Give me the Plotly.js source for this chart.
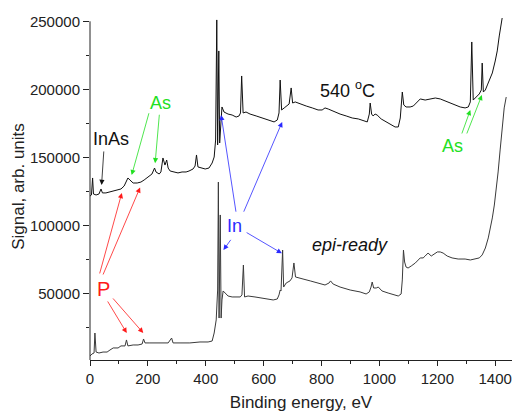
<!DOCTYPE html>
<html><head><meta charset="utf-8">
<script src="https://cdn.plot.ly/plotly-3.0.1.min.js"></script>
<style>html,body{margin:0;padding:0;background:#fff}#chart{width:512px;height:412px}</style>
</head><body><div id="chart"></div>
<script>
// Upper spectrum: after annealing at 540 °C
const energy540 = [0,5,9,12,21,31,38,43,55,69,86,97,107,118,125,131,138,149,163,176,187,197,207,214,223,228,239,245,252,259,265,270,277,290,304,318,332,342,356,363,368,373,383,398,411,422,429,434,438,441,445,448,453,456,463,477,491,505,515,520,524,529,539,553,574,595,615,636,647,653,657,662,671,681,688,695,700,709,726,747,768,788,802,812,823,844,864,885,906,927,947,958,965,968,973,978,985,992,1006,1023,1041,1054,1065,1072,1079,1084,1092,1106,1117,1127,1141,1158,1175,1193,1210,1227,1245,1262,1279,1296,1307,1314,1319,1324,1331,1338,1345,1352,1355,1359,1366,1373,1383,1390,1400,1407,1414,1421,1424];
const signal540 = [121500,122300,134800,123000,122300,123000,126700,123800,123800,124500,125200,126000,126700,128900,132600,134800,133300,131100,131100,131800,133300,134800,136300,137700,142100,139200,137700,139200,149500,144300,148000,142100,139900,139200,138500,139200,139200,139900,141400,143600,151700,142900,142100,141400,142100,145800,150200,162700,251000,159100,228200,160500,177400,187000,183300,181800,181100,179600,180400,182600,209800,182600,183300,181800,180400,178900,177400,176000,177400,182600,206800,184800,186300,187700,189200,201000,189900,190700,189200,187700,186300,184800,184800,186300,185500,183300,181800,180400,178900,178200,176700,176000,181800,189900,181800,180400,181800,181100,178200,176000,173800,172300,172300,178900,198000,188500,187000,187000,187700,189900,192900,192100,192900,193600,192900,191400,189900,188500,187000,186300,187000,190700,234800,192100,193600,195100,196600,199500,219300,198000,199500,203200,209000,212000,220800,228200,239200,249500,252400];

// Lower spectrum: epi-ready surface
const energyEpi = [0,7,14,17,21,31,45,59,69,80,97,107,121,126,131,149,166,180,185,190,207,242,270,282,287,311,345,380,408,422,429,436,441,443.5,446,450,453,456,460,467,477,491,505,519,525,530,534,546,570,595,615,633,647,653,657,660,665.5,669,678,691,698,704.5,710,719,736,761,788,812,826,831,840,864,899,933,954,965,971,975,980,989,996,1009,1030,1051,1065,1075,1079,1083,1087,1092,1099,1110,1124,1141,1151,1158,1168,1179,1189,1200,1210,1220,1234,1251,1272,1296,1314,1331,1345,1355,1366,1376,1383,1390,1397,1404,1410,1417,1424,1431,1438];
const signalEpi = [3900,5400,6100,20800,6800,6100,6800,6800,8300,9800,9800,11300,11300,15700,11300,12000,12000,12700,16400,13500,13500,13500,13500,17100,13500,13500,13500,14200,14200,14900,20800,30400,52400,131800,31800,107600,31800,45100,51700,50200,48000,47300,47300,47300,48800,70800,47300,48000,47300,46500,45800,45100,45800,48800,52400,51700,81800,54600,57600,59100,61300,72300,62000,61300,60500,59100,57600,56100,57600,59100,56800,54600,52400,51000,49500,51000,54600,58300,53900,53900,54600,51700,50200,48800,48000,49500,59800,81800,73000,69300,68600,70100,72300,76000,76000,77400,79600,77400,78900,80400,80400,79600,77400,76000,75200,75200,74500,75200,76000,78200,83300,90700,97300,105400,114900,125900,139200,155400,171500,186300,194300];

const xTickVals = [0,200,400,600,800,1000,1200,1400];
const xTickText = ['0','200','400','600','800','1000','1200','1400'];
const xMinorVals = [100,300,500,700,900,1100,1300];
const yTickVals = [50000,100000,150000,200000,250000];
const yTickText = ['50000','100000','150000','200000','250000'];
const yMinorVals = [25000,75000,125000,175000,225000];

const FONT = 'Liberation Sans, Arial, sans-serif';
const RED = '#ff1a1a', GREEN = '#22e022', BLUE = '#2a2aff', BLACK = '#111111';

function label(x, y, text, color, size) {
  return {x: x, y: y, xref: 'x', yref: 'y', text: text, showarrow: false,
          font: {family: FONT, size: size || 18, color: color}, xanchor: 'center', yanchor: 'middle'};
}
function arrow(x, y, ax, ay, color) {
  return {x: x, y: y, ax: ax, ay: ay, xref: 'x', yref: 'y', axref: 'x', ayref: 'y',
          text: '', showarrow: true, arrowhead: 2, arrowsize: 1.3, arrowwidth: 0.8,
          arrowcolor: color, standoff: 0, startstandoff: 0};
}

const annotations = [
  label(45, 53200, 'P', RED, 20),
  arrow(110, 123800, 32, 63500, RED),
  arrow(173, 127800, 43, 62700, RED),
  arrow(127, 20800, 58, 45100, RED),
  arrow(184, 20800, 75, 47300, RED),
  label(245, 189900, 'As', GREEN, 18),
  arrow(144, 136900, 205, 183500, GREEN),
  arrow(225, 145600, 240, 182400, GREEN),
  label(73, 163500, 'InAs', BLACK, 18),
  arrow(40, 129700, 48, 155400, BLACK),
  label(498, 99500, 'In', BLUE, 18),
  arrow(453, 181100, 505, 108900, BLUE),
  arrow(664, 176000, 529, 108900, BLUE),
  arrow(461, 81800, 490, 90400, BLUE),
  arrow(663, 79400, 536, 95300, BLUE),
  label(1251, 158200, 'As', GREEN, 18),
  arrow(1314, 184800, 1283, 166400, GREEN),
  arrow(1354, 195800, 1300, 166400, GREEN),
  label(888, 199500, '540 <sup>o</sup>C', BLACK, 18),
  label(899, 85500, '<i>epi-ready</i>', BLACK, 18)
];

const traces = [
  {x: energy540, y: signal540, type: 'scatter', mode: 'lines', line: {color: '#111111', width: 1}, hoverinfo: 'skip'},
  {x: energyEpi, y: signalEpi, type: 'scatter', mode: 'lines', line: {color: '#3a3a3a', width: 1}, hoverinfo: 'skip'}
];

const layout = {
  width: 512, height: 412,
  margin: {l: 90, r: 0, t: 13, b: 52, pad: 0},
  paper_bgcolor: '#fff', plot_bgcolor: '#fff',
  showlegend: false,
  font: {family: FONT, size: 15, color: '#222'},
  xaxis: {
    range: [0, 1458], tickmode: 'array', tickvals: xTickVals, ticktext: xTickText,
    ticks: 'outside', ticklen: 5, tickwidth: 1, tickcolor: '#222',
    minor: {tickmode: 'array', tickvals: xMinorVals, ticks: 'outside', ticklen: 3, tickcolor: '#222', showgrid: false},
    showline: true, linecolor: '#222', linewidth: 1, showgrid: false, zeroline: false,
    tickfont: {family: FONT, size: 15, color: '#222'},
    title: {text: 'Binding energy, eV', font: {family: FONT, size: 17, color: '#222'}, standoff: 12}
  },
  yaxis: {
    range: [950, 256100], tickmode: 'array', tickvals: yTickVals, ticktext: yTickText,
    ticks: 'outside', ticklen: 6, tickwidth: 1, tickcolor: '#222',
    minor: {tickmode: 'array', tickvals: yMinorVals, ticks: 'outside', ticklen: 3, tickcolor: '#222', showgrid: false},
    showline: false, showgrid: false, zeroline: false,
    tickfont: {family: FONT, size: 15, color: '#222'},
    title: {text: 'Signal, arb. units', font: {family: FONT, size: 17, color: '#222'}, standoff: 0}
  },
  shapes: [
    {type: 'line', xref: 'paper', yref: 'y', x0: 0, x1: 0, y0: 950, y1: 250000,
     line: {color: '#222', width: 1}}
  ],
  annotations: annotations
};

Plotly.newPlot('chart', traces, layout, {staticPlot: true, displayModeBar: false});
</script>
</body></html>
